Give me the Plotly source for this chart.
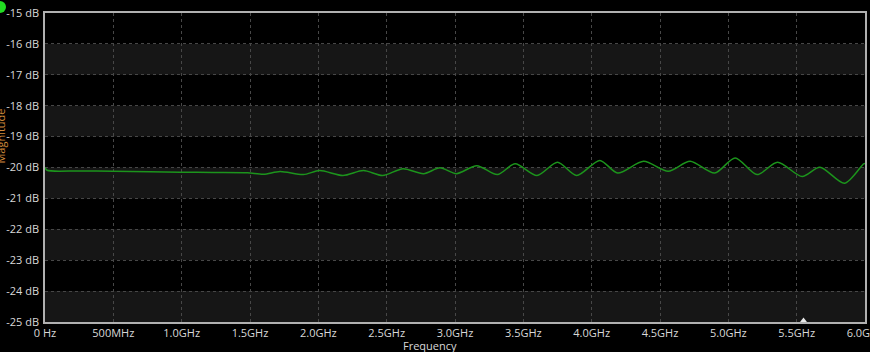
import plotly.graph_objects as go

# Frequency (GHz) and magnitude (dB)
freq_ghz = [0.0, 0.015, 0.25, 0.5, 0.77, 0.99, 1.23, 1.48, 1.60, 1.72, 1.89,
            2.01, 2.18, 2.33, 2.47, 2.62, 2.77, 2.89, 3.01, 3.16, 3.31, 3.44,
            3.60, 3.75, 3.89, 4.06, 4.19, 4.38, 4.56, 4.72, 4.90, 5.05, 5.21,
            5.36, 5.54, 5.67, 5.85, 5.99, 6.0]
mag_db = [-20.00, -20.09, -20.11, -20.12, -20.14, -20.15, -20.16, -20.17, -20.22,
          -20.13, -20.23, -20.10, -20.26, -20.10, -20.26, -20.04, -20.20, -20.01,
          -20.20, -19.94, -20.23, -19.88, -20.26, -19.83, -20.26, -19.77, -20.18,
          -19.80, -20.12, -19.80, -20.18, -19.69, -20.23, -19.83, -20.29, -19.99,
          -20.51, -19.88, -19.87]

x_tickvals = [0, 0.5, 1.0, 1.5, 2.0, 2.5, 3.0, 3.5, 4.0, 4.5, 5.0, 5.5, 6.0]
x_ticktext = ["0 Hz", "500MHz", "1.0GHz", "1.5GHz", "2.0GHz", "2.5GHz", "3.0GHz",
              "3.5GHz", "4.0GHz", "4.5GHz", "5.0GHz", "5.5GHz", "6.0GHz"]
y_tickvals = [-15, -16, -17, -18, -19, -20, -21, -22, -23, -24, -25]
y_ticktext = [f"{v} dB" for v in y_tickvals]
band_ranges = [(-17, -16), (-19, -18), (-21, -20), (-23, -22), (-25, -24)]
marker_freq = [5.55]

fig = go.Figure()
fig.add_trace(go.Scatter(x=freq_ghz, y=mag_db, mode="lines",
                         line=dict(color="#1c941c", width=1.5, shape="spline", smoothing=0.8),
                         hoverinfo="skip", showlegend=False))
fig.add_trace(go.Scatter(x=marker_freq, y=[-24.95], mode="markers",
                         marker=dict(symbol="triangle-up", size=6, color="#e8e8e8"),
                         cliponaxis=False, showlegend=False, hoverinfo="skip"))

shapes = []
for lo, hi in band_ranges:
    shapes.append(dict(type="rect", xref="paper", yref="y", x0=0, x1=1, y0=lo, y1=hi,
                       fillcolor="#161616", line=dict(width=0), layer="below"))
shapes.append(dict(type="circle", xref="paper", yref="paper", xanchor=0, yanchor=1,
                   xsizemode="pixel", ysizemode="pixel", x0=-51, x1=-39, y0=0, y1=12,
                   fillcolor="#22dd22", line=dict(width=0)))

font_family = "Open Sans, Noto Sans, sans-serif"
fig.update_layout(
    width=870, height=352,
    margin=dict(l=45, r=5, t=13, b=30, autoexpand=False),
    paper_bgcolor="#000000", plot_bgcolor="#000000",
    font=dict(family=font_family, size=11, color="#d0d0d0"),
    shapes=shapes,
    xaxis=dict(range=[0, 6], tickvals=x_tickvals, ticktext=x_ticktext,
               showgrid=True, gridcolor="#474747", griddash="dot", gridwidth=1,
               showline=True, linecolor="#b0b0b0", linewidth=1.5, mirror=True,
               zeroline=False, ticks="", ticklabeloverflow="allow", automargin=False,
               ticklabelstandoff=0,
               tickfont=dict(size=11, color="#d8d8d8")),
    yaxis=dict(range=[-25, -15], tickvals=y_tickvals, ticktext=y_ticktext,
               showgrid=True, gridcolor="#474747", griddash="dot", gridwidth=1,
               showline=True, linecolor="#b0b0b0", linewidth=1.5, mirror=True,
               zeroline=False, ticks="", ticklabelstandoff=2, automargin=False,
               tickfont=dict(size=11, color="#d8d8d8")),
    annotations=[
        dict(text="Frequency", xref="paper", yref="paper", x=0.4695, y=0,
             yshift=-23, xanchor="center", yanchor="middle", showarrow=False,
             font=dict(size=11, color="#d8d8d8")),
        dict(text="Magnitude", xref="paper", yref="paper", x=0, y=0.6,
             xshift=-44, textangle=-90, xanchor="center", yanchor="middle",
             showarrow=False, font=dict(size=11, color="#d08a3a")),
    ],
)

fig.write_html("out.html")
